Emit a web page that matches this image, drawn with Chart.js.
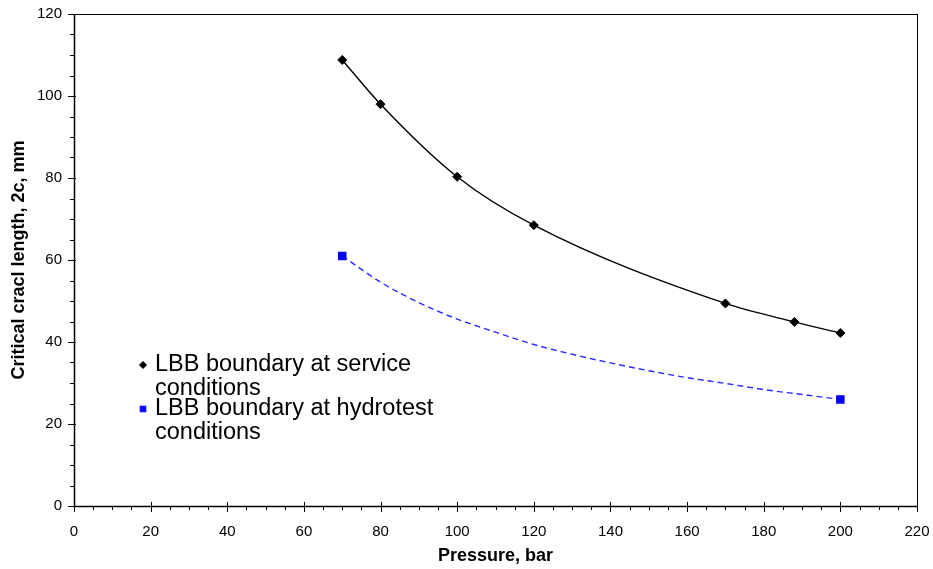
<!DOCTYPE html>
<html>
<head>
<meta charset="utf-8">
<title>Critical crack length vs pressure</title>
<script src="https://cdn.jsdelivr.net/npm/chart.js@4.4.1/dist/chart.umd.min.js"></script>
<style>
  html, body { margin: 0; padding: 0; background: #fff; }
  #wrap { width: 933px; height: 569px; position: relative; }
</style>
</head>
<body>
<div id="wrap"><canvas id="lbbChart"></canvas></div>
<script>
// service conditions: calculated points
const servicePressure = [70, 80, 100, 120, 170, 188, 200];
const serviceLength = [108.8, 98, 80.3, 68.5, 49.4, 44.9, 42.2];

// hydrotest conditions: boundary curve, markers only at the ends
const hydroPressure = [70, 80, 90, 100, 110, 120, 130, 140, 150, 160, 170, 180, 190, 200];
const hydroLength = [61, 54.6, 49.6, 45.6, 42.4, 39.4, 37.0, 34.9, 33.0, 31.3, 29.9, 28.4, 27.2, 26.0];

const legendLines = [
  ["LBB boundary at service", "conditions"],
  ["LBB boundary at hydrotest", "conditions"],
];
const xTitle = "Pressure, bar";
const yTitle = "Critical cracl length, 2c, mm";

const X_MIN = 0, X_MAX = 220, X_STEP = 20;
const Y_MIN = 0, Y_MAX = 120, Y_STEP = 20;
const MINOR = 5;

const FONT = "'Liberation Sans', Arial, sans-serif";

function toPoints(xs, ys) {
  return xs.map((x, i) => ({ x, y: ys[i] }));
}

// box around the plot plus major/minor tick marks
const axisFrame = {
  id: "axisFrame",
  afterDatasetsDraw(chart) {
    const { ctx, chartArea: a, scales: { x, y } } = chart;
    ctx.save();
    ctx.strokeStyle = "#000";
    ctx.lineWidth = 1;
    ctx.strokeRect(a.left + 0.5, a.top + 0.5, a.right - a.left, a.bottom - a.top);

    ctx.lineWidth = 1.5;
    ctx.beginPath();
    ctx.moveTo(a.left + 0.5, a.top);
    ctx.lineTo(a.left + 0.5, a.bottom + 0.5);
    ctx.lineTo(a.right + 1, a.bottom + 0.5);
    ctx.stroke();

    ctx.lineWidth = 1;
    ctx.beginPath();
    for (let v = X_MIN; v <= X_MAX; v += MINOR) {
      const px = Math.round(x.getPixelForValue(v)) + 0.5;
      const major = v % X_STEP === 0;
      ctx.moveTo(px, a.bottom - (major ? 4 : 0));
      ctx.lineTo(px, a.bottom + (major ? 6 : 4));
    }
    for (let v = Y_MIN; v <= Y_MAX; v += MINOR) {
      const py = Math.round(y.getPixelForValue(v)) + 0.5;
      const major = v % Y_STEP === 0;
      ctx.moveTo(a.left - (major ? 6 : 4), py);
      ctx.lineTo(a.left + (major ? 2 : 0), py);
    }
    ctx.stroke();
    ctx.restore();
  },
};

// legend sits inside the plot, lower left
const insideLegend = {
  id: "insideLegend",
  afterDraw(chart) {
    const { ctx, chartArea: a } = chart;
    const x0 = a.left + 69;
    const rows = [a.top + 351, a.top + 395];
    ctx.save();
    ctx.font = "23.5px " + FONT;
    ctx.textBaseline = "middle";
    chart.data.datasets.forEach((ds, i) => {
      ctx.fillStyle = ds.backgroundColor;
      ctx.strokeStyle = ds.backgroundColor;
      Chart.helpers.drawPoint(ctx, {
        pointStyle: ds.pointStyle,
        radius: i === 0 ? 3.5 : 4,
        borderWidth: 1,
        rotation: 0,
      }, x0, rows[i]);
      ctx.fillStyle = "#000";
      legendLines[i].forEach((line, k) => {
        ctx.fillText(line, x0 + 12, rows[i] + k * 24);
      });
    });
    ctx.restore();
  },
};

new Chart(document.getElementById("lbbChart"), {
  type: "line",
  data: {
    datasets: [
      {
        label: legendLines[0].join(" "),
        data: toPoints(servicePressure, serviceLength),
        borderColor: "#000",
        backgroundColor: "#000",
        borderWidth: 1.4,
        pointStyle: "rectRot",
        pointRadius: 4.5,
        pointBorderWidth: 1,
        cubicInterpolationMode: "monotone",
      },
      {
        label: legendLines[1].join(" "),
        data: toPoints(hydroPressure, hydroLength),
        borderColor: "#2a2aff",
        backgroundColor: "#0000ff",
        borderWidth: 1.4,
        borderDash: [6, 4],
        pointStyle: "rect",
        pointBorderColor: "#0000ff",
        pointRadius: (c) => (c.dataIndex === 0 || c.dataIndex === hydroLength.length - 1 ? 5 : 0),
        cubicInterpolationMode: "monotone",
      },
    ],
  },
  options: {
    responsive: true,
    maintainAspectRatio: false,
    animation: false,
    events: [],
    layout: { padding: { top: 14, right: 16, left: 0, bottom: 0 } },
    plugins: {
      legend: { display: false },
      tooltip: { enabled: false },
    },
    scales: {
      x: {
        type: "linear",
        min: X_MIN,
        max: X_MAX,
        grid: { display: false, drawTicks: false },
        border: { display: false },
        ticks: {
          stepSize: X_STEP,
          color: "#000",
          padding: 17,
          maxRotation: 0,
          font: { family: FONT, size: 15 },
        },
        title: {
          display: true,
          text: xTitle,
          color: "#000",
          font: { family: FONT, size: 18, weight: "bold" },
          padding: { top: 0, bottom: 2 },
        },
        afterFit(scale) {
          scale.height = 63;
          scale.paddingLeft = 0;
          scale.paddingRight = 0;
        },
      },
      y: {
        type: "linear",
        min: Y_MIN,
        max: Y_MAX,
        grid: { display: false, drawTicks: false },
        border: { display: false },
        ticks: {
          stepSize: Y_STEP,
          color: "#000",
          padding: 12,
          font: { family: FONT, size: 15 },
        },
        title: {
          display: true,
          text: yTitle,
          color: "#000",
          font: { family: FONT, size: 18, weight: "bold" },
          padding: { top: 8, bottom: 0 },
        },
        afterFit(scale) {
          scale.width = 74;
          scale.paddingTop = 0;
          scale.paddingBottom = 0;
        },
      },
    },
  },
  plugins: [axisFrame, insideLegend],
});
</script>
</body>
</html>
